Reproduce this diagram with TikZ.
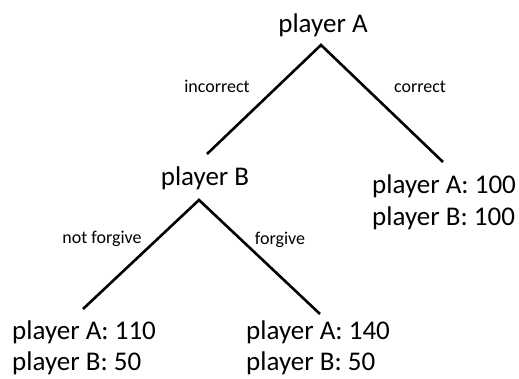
\documentclass[tikz,border=0pt]{standalone}
\usepackage{fontspec}
\setmainfont{Carlito}
\begin{document}
\begin{tikzpicture}[x=1pt,y=1pt,
  player/.style={inner sep=0pt, font=\fontsize{27}{32}\selectfont},
  move/.style={inner sep=0pt, font=\fontsize{18}{21}\selectfont},
  branch/.style={line width=2.6pt, line cap=butt}]
\useasboundingbox[fill=white] (0,0) rectangle (519,378);
% decision nodes
\node[player, anchor=base] (pA) at (323,345) {player A};
\node[player, anchor=base] (pB) at (205,193) {player B};
% leaves
\node[player, anchor=base west] (l1a) at (12,39) {player A: 110};
\node[player, anchor=base west] (l1b) at (12,7.5) {player B: 50};
\node[player, anchor=base west] (l2a) at (246,39) {player A: 140};
\node[player, anchor=base west] (l2b) at (246,7.5) {player B: 50};
\node[player, anchor=base west] (l3a) at (372,185) {player A: 100};
\node[player, anchor=base west] (l3b) at (372,153) {player B: 100};
% branch ends
\coordinate (aTop) at (321,333);
\coordinate (aL) at (207,224);
\coordinate (aR) at (443,216);
\coordinate (bTop) at (199,178);
\coordinate (bL) at (83,69);
\coordinate (bR) at (320,64);
\draw[branch] (aL) -- (aTop) -- (aR);
\draw[branch] (bL) -- (bTop) -- (bR);
% move labels
\node[move, anchor=base] (mInc) at (217,285) {incorrect};
\node[move, anchor=base] (mCor) at (420,285) {correct};
\node[move, anchor=base] (mNot) at (102,135) {not forgive};
\node[move, anchor=base] (mFor) at (280,134) {forgive};
\end{tikzpicture}
\end{document}
